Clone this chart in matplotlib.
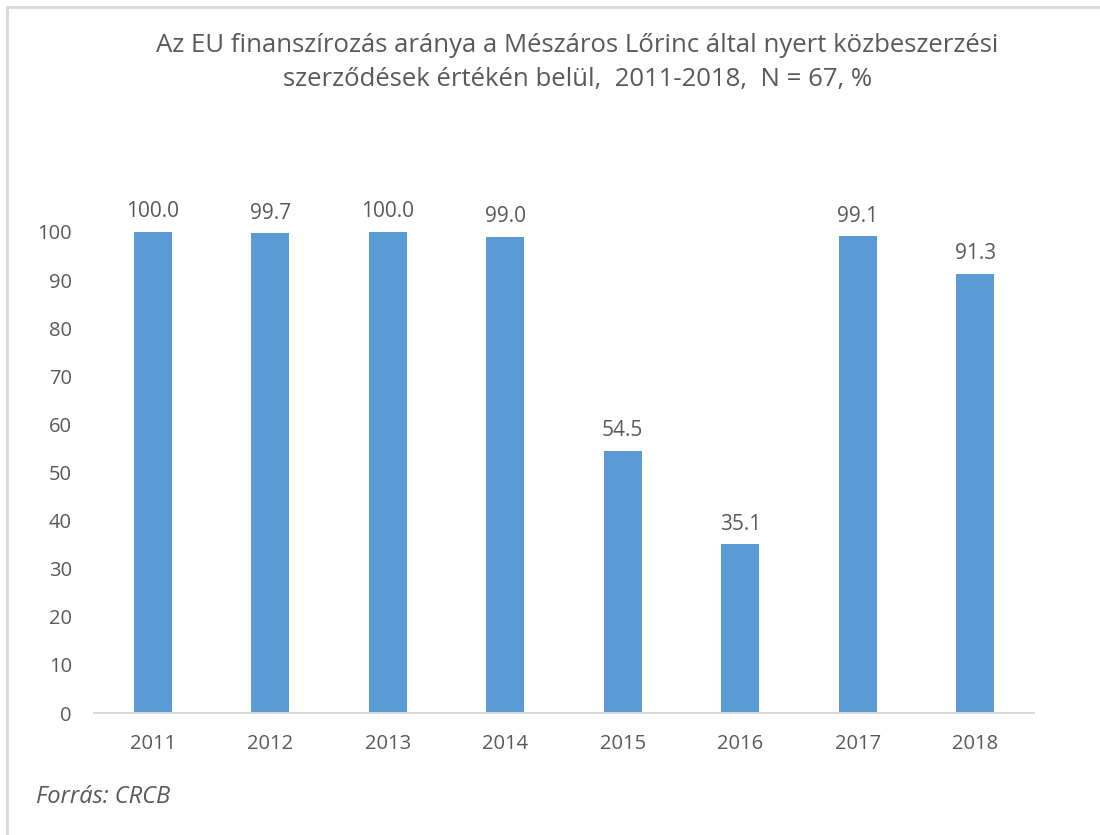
import matplotlib
matplotlib.use("Agg")
import matplotlib.pyplot as plt
from matplotlib.lines import Line2D

years = ["2011", "2012", "2013", "2014", "2015", "2016", "2017", "2018"]
values = [100.0, 99.7, 100.0, 99.0, 54.5, 35.1, 99.1, 91.3]
yticks = list(range(0, 101, 10))
title = "Az EU finanszírozás aránya a Mészáros Lőrinc által nyert közbeszerzési\nszerződések értékén belül,  2011-2018,  N = 67, %"
source = "Forrás: CRCB"

plt.rcParams['font.family'] = ['Open Sans', 'DejaVu Sans']
txt = '#595959'
bar_color = '#5B9BD5'

fig = plt.figure(figsize=(11, 8.35), dpi=100)
ax = fig.add_axes([0.0855, 0.1461, 0.8545, 0.5761])

x = range(len(years))
bars = ax.bar(x, values, width=0.32, color=bar_color, zorder=2)
for xi, v in zip(x, values):
    ax.text(xi, v + 2.0, f"{v:.1f}", ha='center', va='bottom', fontsize=15, color=txt, clip_on=False)

ax.set_xlim(-0.5, len(years) - 0.5)
ax.set_ylim(0, 100)
ax.set_yticks(yticks)
ax.set_yticklabels([str(t) for t in yticks], fontsize=14.5, color=txt)
ax.set_xticks(list(x))
ax.set_xticklabels(years, fontsize=14.5, color=txt)
ax.tick_params(axis='both', length=0)
ax.tick_params(axis='y', pad=16)
ax.tick_params(axis='x', pad=15)
for s in ['top', 'right', 'left']:
    ax.spines[s].set_visible(False)
ax.spines['bottom'].set_color('#D9D9D9')
ax.spines['bottom'].set_linewidth(1.5)

fig.text(0.525, 0.96, title, ha='center', va='top', fontsize=18.5, color=txt, linespacing=1.45)
fig.text(0.033, 0.045, source, ha='left', va='center', fontsize=17, color=txt, style='italic')

# frame: top and left edges
fig.add_artist(Line2D([0.0065, 1.0], [0.9915, 0.9915], transform=fig.transFigure, color='#D9D9D9', lw=2))
fig.add_artist(Line2D([0.0065, 0.0065], [0.0, 0.9915], transform=fig.transFigure, color='#D9D9D9', lw=2))

fig.savefig("out.png", dpi=100)
